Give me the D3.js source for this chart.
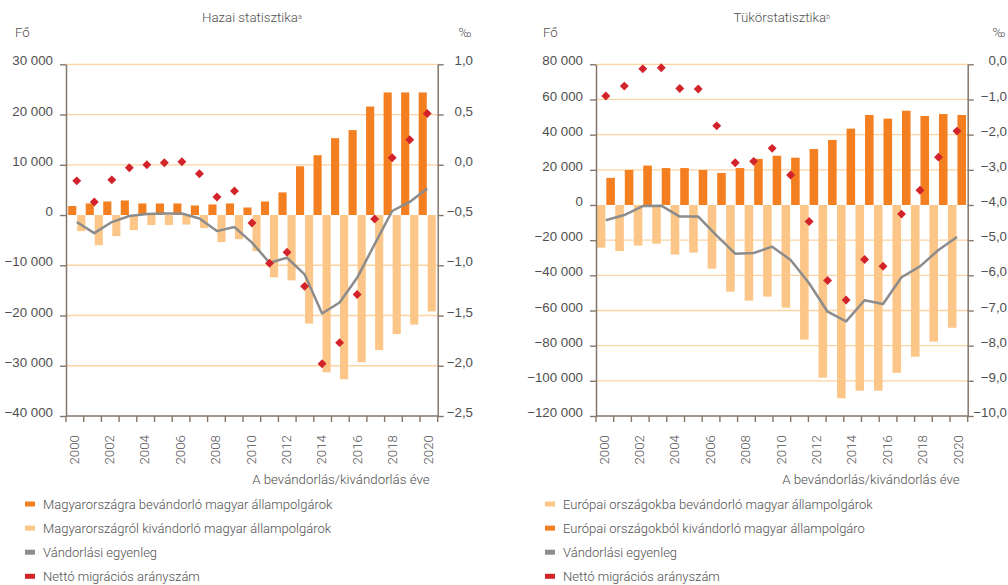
<!DOCTYPE html>
<meta charset="utf-8">
<style>
    body {
        margin: 0;
        background-color: #fff;
    }

    svg {
        display: block;
        font-family: Roboto, "Open Sans", sans-serif;
        font-weight: 300;
    }

    .tick text,
    .lbl {
        fill: #505050;
        font-size: 13.3px;
    }

    .legend text {
        fill: #505050;
        font-size: 13px;
    }
</style>

<body>
    <script src="https://d3js.org/d3.v7.min.js"></script>
    <script>

        // Hazai statisztika (2000-2020)
        var hazaiEvek = [2000, 2001, 2002, 2003, 2004, 2005, 2006, 2007, 2008, 2009, 2010,
            2011, 2012, 2013, 2014, 2015, 2016, 2017, 2018, 2019, 2020];
        var hazaiBevandorlo = [1800, 2300, 2700, 2900, 2300, 2300, 2300, 1900, 2100, 2300, 1500,
            2700, 4500, 9700, 11900, 15300, 16900, 21600, 24400, 24400, 24400];
        var hazaiKivandorlo = [-3200, -6000, -4200, -3000, -2000, -2000, -1900, -2600, -5400, -4800, -7200,
            -12400, -13000, -21600, -31300, -32700, -29300, -26900, -23700, -21800, -19200];
        var hazaiEgyenleg = [-1400, -3600, -1400, -200, 200, 300, 300, -700, -3200, -2400, -5500,
            -9500, -8500, -11800, -19600, -17400, -12500, -5800, 800, 2600, 5300];
        var hazaiArany = [-0.16, -0.37, -0.15, -0.03, 0.00, 0.02, 0.03, -0.09, -0.32, -0.26, -0.58,
            -0.98, -0.87, -1.21, -1.98, -1.77, -1.29, -0.54, 0.07, 0.25, 0.51];

        // Tükörstatisztika (2000-2019)
        var tukorEvek = [2000, 2001, 2002, 2003, 2004, 2005, 2006, 2007, 2008, 2009,
            2010, 2011, 2012, 2013, 2014, 2015, 2016, 2017, 2018, 2019];
        var tukorBevandorlo = [-24300, -26200, -23100, -22000, -28200, -27100, -36200, -49300, -54400, -52100,
            -58400, -76600, -98200, -109900, -105600, -105600, -95400, -86300, -77700, -69800];
        var tukorKivandorlo = [15400, 19900, 22400, 21000, 21000, 19900, 18200, 21000, 26200, 28000,
            26900, 31800, 37000, 43400, 51200, 49100, 53600, 50600, 51700, 51200];
        var tukorEgyenleg = [-8700, -5700, -600, -400, -6600, -6600, -17400, -27700, -27300, -23700,
            -31300, -44500, -60700, -66200, -54200, -56300, -41100, -34900, -25600, -18200];
        var tukorArany = [-0.90, -0.62, -0.13, -0.10, -0.69, -0.70, -1.75, -2.80, -2.76, -2.39,
            -3.15, -4.47, -6.15, -6.70, -5.55, -5.74, -4.26, -3.58, -2.64, -1.90];

        // x tengely feliratai
        var tengelyEvek = [2000, 2001, 2002, 2003, 2004, 2005, 2006, 2007, 2008, 2009, 2010,
            2011, 2012, 2013, 2014, 2015, 2016, 2017, 2018, 2019, 2020];

        var hazaiBalTick = [30000, 20000, 10000, 0, -10000, -20000, -30000, -40000];
        var hazaiJobbTick = [1.0, 0.5, 0.0, -0.5, -1.0, -1.5, -2.0, -2.5];
        var tukorBalTick = [80000, 60000, 40000, 20000, 0, -20000, -40000, -60000, -80000, -100000, -120000];
        var tukorJobbTick = [0, -1, -2, -3, -4, -5, -6, -7, -8, -9, -10];

        var sotet = "#f47f20",
            vilagos = "#fcc688",
            szurke = "#8c8c8c",
            piros = "#d2232a",
            barna = "#85766a",
            racs = "#fcd3a1";

        var hu = d3.formatLocale({ decimal: ",", thousands: "\u00a0", grouping: [3], currency: ["", ""], minus: "\u2212" });
        var fmtFo = hu.format(",d"),
            fmtAr = hu.format(".1f");

        var width = 1008, height = 585,
            plotTop = 64.3, plotBottom = 416;

        var svg = d3.select("body").append("svg")
            .attr("width", width)
            .attr("height", height);

        drawChart({
            left: 66, right: 437.7,
            title: "Hazai statisztika", sup: "a",
            evek: hazaiEvek,
            first: { values: hazaiBevandorlo, color: sotet },
            second: { values: hazaiKivandorlo, color: vilagos },
            egyenleg: hazaiEgyenleg, arany: hazaiArany,
            yDomain: [-40000, 30000], yTicks: hazaiBalTick,
            rDomain: [-2.5, 1.0], rTicks: hazaiJobbTick,
            barRange: [68, 436],
            rightLabelX: 473,
            foX: 15,
            legendX: 25,
            legend: [
                { name: "Magyarországra bevándorló magyar állampolgárok", color: sotet },
                { name: "Magyarországról kivándorló magyar állampolgárok", color: vilagos },
                { name: "Vándorlási egyenleg", color: szurke },
                { name: "Nettó migrációs arányszám", color: piros }
            ]
        });

        drawChart({
            left: 596, right: 967.7,
            title: "Tükörstatisztika", sup: "b",
            evek: tukorEvek,
            first: { values: tukorBevandorlo, color: vilagos },
            second: { values: tukorKivandorlo, color: sotet },
            egyenleg: tukorEgyenleg, arany: tukorArany,
            yDomain: [-120000, 80000], yTicks: tukorBalTick,
            rDomain: [-10, 0], rTicks: tukorJobbTick,
            barRange: [596.6, 966.2],
            rightLabelX: 1007,
            foX: 543,
            legendX: 545,
            legend: [
                { name: "Európai országokba bevándorló magyar állampolgárok", color: vilagos },
                { name: "Európai országokból kivándorló magyar állampolgáro", color: sotet },
                { name: "Vándorlási egyenleg", color: szurke },
                { name: "Nettó migrációs arányszám", color: piros }
            ]
        });

        function drawChart(c) {
            var g = svg.append("g");

            var y = d3.scaleLinear().domain(c.yDomain).range([plotBottom, plotTop]);
            var r = d3.scaleLinear().domain(c.rDomain).range([plotBottom, plotTop]);

            // bars & points use their own band scale, the axis its own (as in the source picture)
            var x = d3.scaleBand().domain(c.evek).range(c.barRange).paddingInner(0);
            var xs = d3.scaleBand().domain(["first", "second"]).range([0, x.bandwidth()])
                .paddingInner(0.1).paddingOuter(0.02);
            var xAxis = d3.scaleBand().domain(tengelyEvek).range([c.left, c.right]);

            // grid
            g.append("g").selectAll("line")
                .data(c.yTicks.filter(function (d) { return d !== 0 && d !== c.yDomain[0]; }))
                .enter().append("line")
                .attr("x1", c.left).attr("x2", c.right)
                .attr("y1", function (d) { return y(d); })
                .attr("y2", function (d) { return y(d); })
                .attr("stroke", racs)
                .attr("stroke-width", 1.3);

            // bars
            ["first", "second"].forEach(function (key) {
                var s = c[key];
                g.append("g").selectAll("rect")
                    .data(s.values)
                    .enter().append("rect")
                    .attr("x", function (d, i) { return x(c.evek[i]) + xs(key); })
                    .attr("width", xs.bandwidth())
                    .attr("y", function (d) { return y(Math.max(0, d)); })
                    .attr("height", function (d) { return Math.abs(y(d) - y(0)); })
                    .attr("fill", s.color);
            });

            // left axis
            var ax = g.append("g")
                .attr("transform", "translate(" + c.left + ",0)")
                .call(d3.axisLeft(y).tickValues(c.yTicks).tickFormat(fmtFo)
                    .tickSize(6).tickSizeOuter(0).tickPadding(7));
            ax.selectAll("text").attr("dy", "0.05em");

            // right axis
            var ar = g.append("g")
                .attr("transform", "translate(" + c.right + ",0)")
                .call(d3.axisRight(r).tickValues(c.rTicks).tickFormat(fmtAr)
                    .tickSize(6).tickSizeOuter(0));
            ar.selectAll("text")
                .attr("text-anchor", "end")
                .attr("x", c.rightLabelX - c.right)
                .attr("dy", "0.05em");

            // bottom axis
            var ab = g.append("g")
                .attr("transform", "translate(0," + plotBottom + ")");
            ab.append("g").selectAll("line")
                .data(tengelyEvek.concat(["end"]))
                .enter().append("line")
                .attr("x1", function (d) { return d === "end" ? c.right : xAxis(d); })
                .attr("x2", function (d) { return d === "end" ? c.right : xAxis(d); })
                .attr("y1", 0).attr("y2", 6);
            ab.selectAll("text")
                .data(tengelyEvek.filter(function (d) { return d % 2 === 0; }))
                .enter().append("text")
                .attr("class", "lbl")
                .attr("text-anchor", "end")
                .attr("dy", "0.35em")
                .attr("transform", function (d) {
                    return "translate(" + (xAxis(d) + xAxis.bandwidth() / 2 - 1) + ",19)rotate(-90)";
                })
                .text(function (d) { return d; });
            ab.append("line")
                .attr("x1", c.left).attr("x2", c.right);

            [ax, ar, ab].forEach(function (a) {
                a.selectAll("line").attr("stroke", barna).attr("stroke-width", 1.4);
                a.selectAll(".domain").attr("stroke", barna).attr("stroke-width", 1.5);
            });

            // net balance
            var line = d3.line()
                .x(function (d, i) { return x(c.evek[i]) + x.bandwidth() / 2; })
                .y(function (d) { return y(d); });
            g.append("path")
                .datum(c.egyenleg)
                .attr("d", line)
                .attr("fill", "none")
                .attr("stroke", szurke)
                .attr("stroke-width", 2.5)
                .attr("stroke-linejoin", "round");

            // net migration rate
            var diamond = d3.symbol().type(d3.symbolSquare).size(40);
            g.append("g").selectAll("path")
                .data(c.arany)
                .enter().append("path")
                .attr("d", diamond)
                .attr("transform", function (d, i) {
                    return "translate(" + (x(c.evek[i]) + x.bandwidth() / 2) + "," + r(d) + ")rotate(45)";
                })
                .attr("fill", piros);

            // titles
            var t = g.append("text")
                .attr("class", "lbl")
                .attr("x", (c.left + c.right) / 2)
                .attr("y", 22)
                .attr("text-anchor", "middle")
                .text(c.title);
            t.append("tspan")
                .attr("dy", "-0.45em")
                .style("font-size", "7px")
                .text(c.sup);

            g.append("text").attr("class", "lbl")
                .attr("x", c.foX).attr("y", 37)
                .text("Fő");
            g.append("text").attr("class", "lbl")
                .attr("x", c.rightLabelX - 1.5).attr("y", 37)
                .attr("text-anchor", "end")
                .text("‰");

            g.append("text").attr("class", "lbl")
                .attr("x", c.right - 8).attr("y", 484)
                .attr("text-anchor", "end")
                .text("A bevándorlás/kivándorlás éve");

            // legend
            var lg = g.append("g").attr("class", "legend")
                .selectAll("g")
                .data(c.legend)
                .enter().append("g")
                .attr("transform", function (d, i) { return "translate(" + c.legendX + "," + (504 + i * 24.1) + ")"; });
            lg.append("rect")
                .attr("x", 0).attr("y", -2.5)
                .attr("width", 10).attr("height", 5)
                .attr("fill", function (d) { return d.color; });
            lg.append("text")
                .attr("x", 18).attr("y", 4.7)
                .text(function (d) { return d.name; });
        }

    </script>
</body>
